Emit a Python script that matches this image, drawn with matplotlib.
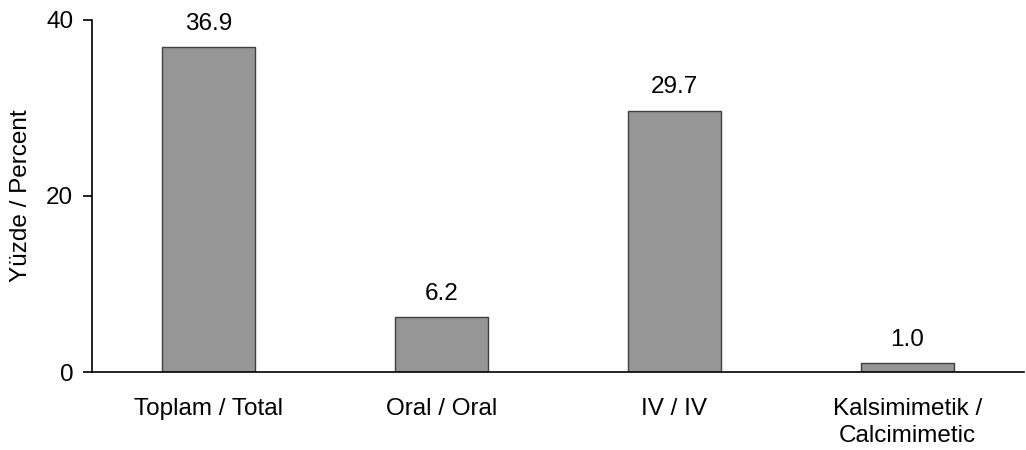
import numpy as np
import matplotlib
matplotlib.use('Agg')
import matplotlib.pyplot as plt

plt.rcParams['font.family'] = ['Liberation Sans', 'DejaVu Sans']

categories = ['Toplam / Total', 'Oral / Oral', 'IV / IV', 'Kalsimimetik /\nCalcimimetic']
values = [36.9, 6.2, 29.7, 1.0]
yticks = [0, 20, 40]

fig = plt.figure(figsize=(10.26, 4.5), dpi=100)
ax = fig.add_axes([0.0897, 0.1733, 0.9083, 0.7823])

x = np.arange(len(categories))
bars = ax.bar(x, values, width=0.4, color='#969696', edgecolor='#404040', linewidth=1)

for xi, v in zip(x, values):
    ax.annotate(f'{v:.1f}', (xi, v), xytext=(0, 9), textcoords='offset points',
                ha='center', va='bottom', fontsize=17.5)

ax.set_xlim(-0.5, 3.5)
ax.set_ylim(0, 40)
ax.set_yticks(yticks)
ax.set_xticks(x)
ax.set_xticklabels(categories, fontsize=17.5, linespacing=1.25)
ax.tick_params(axis='x', length=0, pad=19)
ax.tick_params(axis='y', length=6.5, width=1.2, labelsize=17.5, pad=7)
ax.set_ylabel('Yüzde / Percent', fontsize=17.5, labelpad=10)

for s in ['top', 'right']:
    ax.spines[s].set_visible(False)
for s in ['left', 'bottom']:
    ax.spines[s].set_linewidth(1.2)

fig.savefig('out.png', dpi=100)
